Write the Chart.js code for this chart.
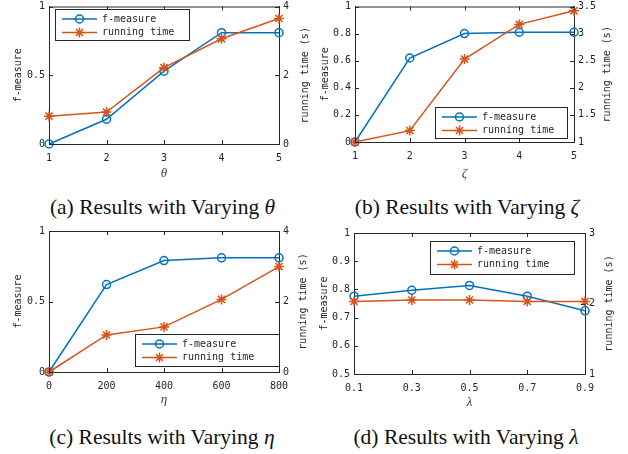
<!DOCTYPE html>
<html>
<head>
<meta charset="utf-8">
<script src="https://cdn.jsdelivr.net/npm/chart.js@4.4.0/dist/chart.umd.min.js"></script>
<style>
html, body { margin: 0; padding: 0; background: #fff; }
body { width: 628px; height: 454px; position: relative; overflow: hidden; }
canvas { position: absolute; }
.cap { position: absolute; font-family: "Liberation Serif", "DejaVu Serif", serif; font-size: 21.5px;
       color: #111; text-align: center; white-space: nowrap; line-height: 24px; }
</style>
</head>
<body>
<canvas id="chartA" width="314" height="185" style="left:0;top:0"></canvas>
<canvas id="chartB" width="314" height="185" style="left:314px;top:0"></canvas>
<canvas id="chartC" width="314" height="191" style="left:0;top:220px"></canvas>
<canvas id="chartD" width="314" height="194" style="left:314px;top:220px"></canvas>
<div class="cap" style="left:0;top:195px;width:325px">(a) Results with Varying <i>θ</i></div>
<div class="cap" style="left:314px;top:195px;width:306px">(b) Results with Varying <i>ζ</i></div>
<div class="cap" style="left:0;top:425px;width:324px">(c) Results with Varying <i>η</i></div>
<div class="cap" style="left:314px;top:425px;width:304px">(d) Results with Varying <i>λ</i></div>
<script>
// (a) theta
const thetaLabels = ['1', '2', '3', '4', '5'];
const thetaF = [0, 0.18, 0.53, 0.81, 0.81];
const thetaTime = [0.81, 0.93, 2.22, 3.06, 3.65];
const thetaFTicks = [0, 0.5, 1];
const thetaTimeTicks = [0, 2, 4];

// (b) zeta
const zetaLabels = ['1', '2', '3', '4', '5'];
const zetaF = [0, 0.62, 0.80, 0.81, 0.81];
const zetaTime = [1.0, 1.21, 2.53, 3.17, 3.42];
const zetaFTicks = [0, 0.2, 0.4, 0.6, 0.8, 1];
const zetaTimeTicks = [1, 1.5, 2, 2.5, 3, 3.5];

// (c) eta
const etaLabels = ['0', '200', '400', '600', '800'];
const etaF = [0, 0.62, 0.79, 0.81, 0.81];
const etaTime = [0, 1.05, 1.28, 2.06, 2.99];
const etaFTicks = [0, 0.5, 1];
const etaTimeTicks = [0, 2, 4];

// (d) lambda
const lambdaLabels = ['0.1', '0.3', '0.5', '0.7', '0.9'];
const lambdaF = [0.776, 0.797, 0.814, 0.776, 0.724];
const lambdaTime = [2.03, 2.05, 2.05, 2.03, 2.03];
const lambdaFTicks = [0.5, 0.6, 0.7, 0.8, 0.9, 1];
const lambdaTimeTicks = [1, 2, 3];

const axisColor = '#262626';
const blue = '#0072BD';
const orange = '#D95319';
const mono = 'DejaVu Sans Mono';

// matlab style box: top border, inward ticks, right title, legend box
const matlabAxes = {
    id: 'matlabAxes',
    afterDraw(chart, args, opts) {
        const { ctx, chartArea: a, scales } = chart;
        const tl = 4;
        ctx.save();
        ctx.strokeStyle = axisColor;
        ctx.lineWidth = 1;
        ctx.beginPath();
        ctx.moveTo(a.left, a.top + 0.5);
        ctx.lineTo(a.right, a.top + 0.5);
        scales.x.ticks.forEach((t, i) => {
            const px = Math.round(scales.x.getPixelForTick(i)) + 0.5;
            ctx.moveTo(px, a.bottom); ctx.lineTo(px, a.bottom - tl);
            ctx.moveTo(px, a.top); ctx.lineTo(px, a.top + tl);
        });
        scales.y.ticks.forEach(t => {
            const py = Math.round(scales.y.getPixelForValue(t.value)) + 0.5;
            ctx.moveTo(a.left, py); ctx.lineTo(a.left + tl, py);
        });
        scales.y1.ticks.forEach(t => {
            const py = Math.round(scales.y1.getPixelForValue(t.value)) + 0.5;
            ctx.moveTo(a.right, py); ctx.lineTo(a.right - tl, py);
        });
        ctx.stroke();

        // right axis title reads bottom to top like matlab
        ctx.fillStyle = axisColor;
        ctx.font = '10px "' + mono + '"';
        ctx.textAlign = 'center';
        ctx.textBaseline = 'middle';
        ctx.save();
        ctx.translate(opts.rightTitleX, (a.top + a.bottom) / 2);
        ctx.rotate(-Math.PI / 2);
        ctx.fillText(opts.rightTitle, 0, 0);
        ctx.restore();

        // legend
        const lg = opts.legend;
        ctx.fillStyle = '#fff';
        ctx.fillRect(lg.x, lg.y, lg.w, lg.h);
        ctx.strokeStyle = axisColor;
        ctx.strokeRect(lg.x + 0.5, lg.y + 0.5, lg.w, lg.h);
        chart.data.datasets.forEach((ds, i) => {
            const yy = lg.y + (i === 0 ? 10 : 23.5);
            const x0 = lg.x + 7, x1 = lg.x + 42, xm = (x0 + x1) / 2;
            ctx.strokeStyle = ds.borderColor;
            ctx.lineWidth = 1.5;
            ctx.beginPath();
            ctx.moveTo(x0, yy); ctx.lineTo(x1, yy);
            ctx.stroke();
            ctx.beginPath();
            if (ds.pointStyle === 'circle') {
                ctx.arc(xm, yy, ds.pointRadius, 0, Math.PI * 2);
            } else {
                const r = ds.pointRadius, d = r * Math.SQRT1_2;
                ctx.moveTo(xm - r, yy); ctx.lineTo(xm + r, yy);
                ctx.moveTo(xm, yy - r); ctx.lineTo(xm, yy + r);
                ctx.moveTo(xm - d, yy - d); ctx.lineTo(xm + d, yy + d);
                ctx.moveTo(xm - d, yy + d); ctx.lineTo(xm + d, yy - d);
            }
            ctx.stroke();
            ctx.fillStyle = axisColor;
            ctx.textAlign = 'left';
            ctx.fillText(ds.label, lg.x + 47, yy);
        });
        ctx.restore();
    }
};

function fixSize(size, horizontal) {
    return scale => {
        if (horizontal) scale.height = size; else scale.width = size;
        scale.paddingTop = 0; scale.paddingBottom = 0;
        scale.paddingLeft = 0; scale.paddingRight = 0;
    };
}

function setTicks(values) {
    return scale => { scale.ticks = values.map(v => ({ value: v })); };
}

function buildChart(id, c) {
    const tickFont = { family: mono, size: 10 };
    return new Chart(document.getElementById(id), {
        type: 'line',
        data: {
            labels: c.labels,
            datasets: [{
                label: 'f-measure',
                data: c.f,
                yAxisID: 'y',
                borderColor: blue,
                borderWidth: 1.5,
                pointStyle: 'circle',
                pointRadius: 4,
                pointBorderWidth: 1.5,
                pointBorderColor: blue,
                pointBackgroundColor: 'rgba(0,0,0,0)',
                tension: 0,
                clip: false,
                order: 1
            }, {
                label: 'running time',
                data: c.t,
                yAxisID: 'y1',
                borderColor: orange,
                borderWidth: 1.5,
                pointStyle: 'star',
                pointRadius: 5,
                pointBorderWidth: 1.5,
                pointBorderColor: orange,
                pointBackgroundColor: orange,
                tension: 0,
                clip: false,
                order: 0
            }]
        },
        options: {
            responsive: false,
            animation: false,
            devicePixelRatio: 1,
            layout: { padding: { top: c.top, left: 0, right: 0, bottom: 0 } },
            plugins: {
                legend: { display: false },
                tooltip: { enabled: false },
                matlabAxes: { rightTitle: 'running time (s)', rightTitleX: c.rightTitleX, legend: c.legend }
            },
            scales: {
                x: {
                    type: 'category',
                    offset: false,
                    grid: { display: false, drawTicks: false },
                    border: { display: true, color: axisColor, width: 1 },
                    ticks: { font: tickFont, color: axisColor, padding: 8, maxRotation: 0, autoSkip: false },
                    title: { display: true, text: c.xTitle, color: '#404040',
                             font: { family: 'Liberation Serif', style: 'italic', size: 13 },
                             padding: { top: 0, bottom: 4 } },
                    afterFit: fixSize(c.xH, true)
                },
                y: {
                    position: 'left',
                    min: c.fTicks[0],
                    max: c.fTicks[c.fTicks.length - 1],
                    afterBuildTicks: setTicks(c.fTicks),
                    grid: { display: false, drawTicks: false },
                    border: { display: true, color: axisColor, width: 1 },
                    ticks: { font: tickFont, color: axisColor, padding: 4, callback: v => String(v) },
                    title: { display: true, text: 'f-measure', color: axisColor,
                             font: { family: mono, size: 10 },
                             padding: { top: c.leftTitleX - 6, bottom: 0 } },
                    afterFit: fixSize(c.yL, false)
                },
                y1: {
                    position: 'right',
                    min: c.tTicks[0],
                    max: c.tTicks[c.tTicks.length - 1],
                    afterBuildTicks: setTicks(c.tTicks),
                    grid: { display: false, drawTicks: false, drawOnChartArea: false },
                    border: { display: true, color: axisColor, width: 1 },
                    ticks: { font: tickFont, color: axisColor, padding: 4, callback: v => String(v) },
                    afterFit: fixSize(c.yR, false)
                }
            }
        },
        plugins: [matlabAxes]
    });
}

buildChart('chartA', {
    labels: thetaLabels, f: thetaF, t: thetaTime, fTicks: thetaFTicks, tTicks: thetaTimeTicks,
    xTitle: 'θ', top: 3, yL: 49, yR: 35, xH: 41, leftTitleX: 18, rightTitleX: 305,
    legend: { x: 55, y: 9, w: 134, h: 31 }
});
buildChart('chartB', {
    labels: zetaLabels, f: zetaF, t: zetaTime, fTicks: zetaFTicks, tTicks: zetaTimeTicks,
    xTitle: 'ζ', top: 4, yL: 41, yR: 54, xH: 43, leftTitleX: 11, rightTitleX: 293,
    legend: { x: 121, y: 107, w: 132, h: 31 }
});
buildChart('chartC', {
    labels: etaLabels, f: etaF, t: etaTime, fTicks: etaFTicks, tTicks: etaTimeTicks,
    xTitle: 'η', top: 11, yL: 49, yR: 35, xH: 39, leftTitleX: 18, rightTitleX: 303,
    legend: { x: 135, y: 114, w: 144, h: 32 }
});
buildChart('chartD', {
    labels: lambdaLabels, f: lambdaF, t: lambdaTime, fTicks: lambdaFTicks, tTicks: lambdaTimeTicks,
    xTitle: 'λ', top: 13, yL: 40, yR: 43, xH: 40, leftTitleX: 10, rightTitleX: 295,
    legend: { x: 116, y: 21, w: 144, h: 33 }
});
</script>
</body>
</html>
